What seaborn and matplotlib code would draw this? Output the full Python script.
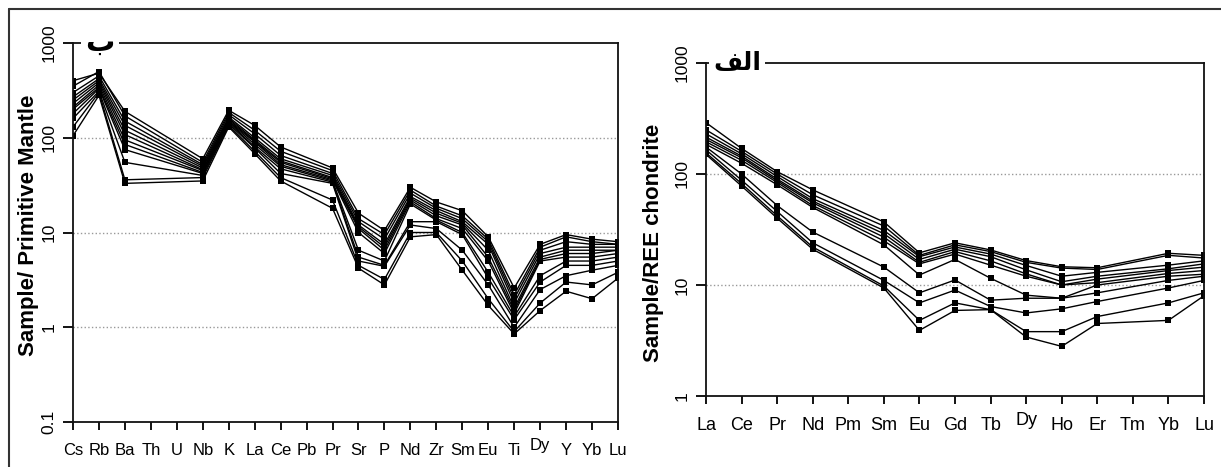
import numpy as np
import pandas as pd
import matplotlib
matplotlib.use("Agg")
import matplotlib.pyplot as plt
import matplotlib.ticker as mticker
from matplotlib.lines import Line2D
import seaborn as sns

# element order on each diagram
pm_elements = ['Cs', 'Rb', 'Ba', 'Th', 'U', 'Nb', 'K', 'La', 'Ce', 'Pb', 'Pr',
               'Sr', 'P', 'Nd', 'Zr', 'Sm', 'Eu', 'Ti', 'Dy', 'Y', 'Yb', 'Lu']
ree_elements = ['La', 'Ce', 'Pr', 'Nd', 'Pm', 'Sm', 'Eu', 'Gd', 'Tb', 'Dy',
                'Ho', 'Er', 'Tm', 'Yb', 'Lu']

n = np.nan
# primitive-mantle normalised, one row per sample (Th, U, Pb not analysed)
pm_values = [
    [400, 480, 190, n, n, 60, 195, 135, 80, n, 48, 16, 10.5, 30, 21, 17, 9, 2.6, 7.5, 9.5, 8.5, 8],
    [350, 500, 170, n, n, 55, 185, 120, 72, n, 45, 14, 9.5, 28, 19, 15, 8.5, 2.2, 7, 9, 8, 7.5],
    [300, 450, 150, n, n, 52, 175, 110, 65, n, 42, 13, 8.5, 26, 18, 14, 8, 2.0, 6.5, 8, 7.5, 7.5],
    [270, 420, 135, n, n, 50, 165, 100, 60, n, 40, 12, 7.5, 24, 17, 13, 7.5, 1.8, 6, 7, 7, 7],
    [250, 400, 120, n, n, 48, 160, 95, 57, n, 38, 11.5, 7, 23, 16, 12.5, 6.5, 1.6, 5.5, 6.5, 6.5, 6.5],
    [230, 380, 108, n, n, 46, 155, 92, 55, n, 37, 11, 6.5, 22, 15, 12, 5.5, 1.5, 5.2, 6, 6, 6.5],
    [210, 360, 95, n, n, 45, 150, 90, 52, n, 36, 10, 6, 21, 14, 11, 5, 1.4, 5, 5.5, 5.5, 6],
    [200, 340, 85, n, n, 43, 148, 85, 50, n, 35, 6.5, 5, 20, 13.5, 10, 3.8, 1.3, 3.5, 5, 5, 5.5],
    [180, 330, 75, n, n, 42, 145, 80, 47, n, 34, 5.5, 4.5, 13, 13, 9.5, 3.3, 1.2, 3, 4.5, 4.5, 5],
    [160, 310, 55, n, n, 40, 140, 78, 42, n, 33, 5, 4.4, 12, 11, 6.5, 2.8, 1.0, 2.5, 3.5, 4, 4.5],
    [130, 300, 36, n, n, 38, 135, 72, 38, n, 22, 4.5, 3.2, 10, 10, 5, 2, 0.9, 1.8, 3, 2.8, 3.8],
    [105, 280, 33, n, n, 35, 130, 68, 35, n, 18, 4.2, 2.8, 9, 9.5, 4, 1.7, 0.85, 1.5, 2.4, 2.0, 3.3],
]
# chondrite normalised REE (Pm, Tm not analysed)
ree_values = [
    [290, 170, 105, 72, n, 37, 19.5, 24, 20.7, 16.6, 14.6, 14.3, n, 19.3, 18.5],
    [250, 160, 100, 65, n, 34, 18.5, 23, 20, 16, 14.2, 13.8, n, 18.5, 17.5],
    [230, 152, 95, 60, n, 31, 18, 22, 19, 15, 12, 13, n, 15.1, 16.5],
    [215, 145, 90, 57, n, 29, 17, 21, 18, 13.7, 10.7, 12, n, 14, 15.5],
    [205, 140, 87, 55, n, 27, 16, 20, 16.5, 12.6, 10, 11.3, n, 13.5, 14.5],
    [195, 133, 84, 52, n, 25, 15.5, 19, 15.1, 12, 10, 10.5, n, 12.7, 13.5],
    [185, 125, 80, 50, n, 23, 12.3, 17, 11.5, 8.1, 7.6, 10, n, 12, 12.5],
    [175, 100, 52, 30, n, 14.5, 8.5, 11.1, 7.3, 7.6, 7.6, 8.5, n, 11, 12],
    [165, 88, 46, 24, n, 11, 6.9, 9.0, 6.4, 5.6, 6.1, 7.1, n, 9.4, 11],
    [155, 82, 42, 22, n, 9.8, 4.8, 6.9, 6.0, 3.8, 3.8, 5.2, n, 6.9, 8.5],
    [150, 78, 40, 21, n, 9.4, 3.9, 5.9, 6.0, 3.4, 2.8, 4.5, n, 4.8, 8.0],
]

sns.set_style("white")
plt.rcParams['font.family'] = ['Liberation Sans', 'DejaVu Sans']
plt.rcParams['text.color'] = 'black'
plt.rcParams['axes.labelcolor'] = 'black'
plt.rcParams['xtick.color'] = 'black'
plt.rcParams['ytick.color'] = 'black'


def long_form(values, elements):
    rows = []
    for i, row in enumerate(values):
        for j, v in enumerate(row):
            rows.append({'sample': i, 'pos': j, 'element': elements[j], 'value': v})
    return pd.DataFrame(rows).dropna()


def spider(ax, values, elements, ymin, ymax, grid, xfont, xfamily, label, tag, tagx, tagsize):
    df = long_form(values, elements)
    sns.lineplot(data=df, x='pos', y='value', units='sample', estimator=None,
                 color='black', linewidth=1.0, marker='s', markersize=5,
                 markeredgewidth=0, ax=ax, legend=False)
    ax.set_yscale('log')
    ax.set_ylim(ymin, ymax)
    ax.set_xlim(0, len(elements) - 1)
    for g in grid:
        ax.axhline(g, color='#999999', linestyle=':', linewidth=1.0, zorder=0)
    yt = [t for t in [0.1, 1, 10, 100, 1000] if ymin <= t <= ymax]
    ax.yaxis.set_major_locator(mticker.FixedLocator(yt))
    ax.yaxis.set_major_formatter(mticker.FixedFormatter([('%g' % t) for t in yt]))
    ax.yaxis.set_minor_locator(mticker.NullLocator())
    ax.set_xticks(range(len(elements)))
    ax.set_xticklabels(elements, family=xfamily)
    ax.tick_params(axis='y', direction='out', length=7, width=1.3, pad=5,
                   labelsize=12.5, labelrotation=90, left=True)
    ax.tick_params(axis='x', direction='out', length=6, width=1.3, pad=9,
                   labelsize=xfont, bottom=True)
    for lab in ax.get_yticklabels():
        lab.set_va('center')
    for lab in ax.get_xticklabels():
        if lab.get_text() == 'Dy':
            lab.set_transform(lab.get_transform() +
                              matplotlib.transforms.ScaledTranslation(0, 5 / 100, ax.figure.dpi_scale_trans))
    for s in ax.spines.values():
        s.set_linewidth(1.3)
        s.set_color('#111111')
    ax.set_xlabel('')
    ax.set_ylabel(label, fontsize=16, fontweight='bold')
    ax.text(tagx, 1.0, tag, transform=ax.transAxes, ha='center', va='center',
            fontsize=tagsize, fontweight='bold', family=['DejaVu Sans'],
            bbox=dict(facecolor='white', edgecolor='none', pad=3))


fig = plt.figure(figsize=(12.21, 4.67), dpi=100)
ax1 = fig.add_axes([73 / 1221, 1 - 422 / 467, 545 / 1221, 379 / 467])
ax2 = fig.add_axes([706 / 1221, 1 - 396 / 467, 498 / 1221, 333 / 467])

spider(ax1, pm_values, pm_elements, 0.1, 1000, [1, 10, 100], 12,
       ['Liberation Sans Narrow', 'Liberation Sans'],
       'Sample/ Primitive Mantle', '\uFE8F', 27 / 545, 21)
ax1.yaxis.set_label_coords(-0.062, 0.52)

spider(ax2, ree_values, ree_elements, 1, 1000, [10, 100], 13,
       ['Liberation Sans'],
       'Sample/REE chondrite', '\uFED2\uFEDF\uFE8D', 31 / 498, 18)
ax2.yaxis.set_label_coords(-0.085, 0.46)

# outer frame (left and top edges visible)
fig.add_artist(Line2D([9 / 1221, 9 / 1221], [0, 1 - 9 / 467], transform=fig.transFigure,
                      color='#333333', linewidth=1.5))
fig.add_artist(Line2D([9 / 1221, 1], [1 - 9 / 467, 1 - 9 / 467], transform=fig.transFigure,
                      color='#333333', linewidth=1.5))

fig.savefig('out.png', dpi=100)
